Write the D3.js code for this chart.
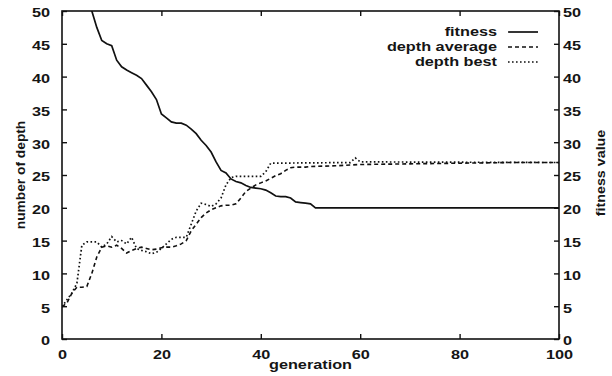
<!DOCTYPE html>
<html>
<head>
<meta charset="utf-8">
<script src="https://cdn.jsdelivr.net/npm/d3@7"></script>
<style>
  body { margin: 0; background: #fff; }
  svg text { font-family: "Liberation Sans", Arial, sans-serif; font-weight: bold; fill: #151515; }
</style>
</head>
<body>
<figure id="chart" style="margin:0"></figure>
<script>
// data
const fitnessGen = [5, 6, 7, 8, 9, 10, 11, 12, 13, 14, 15, 16, 17, 18, 19, 20, 21, 22, 23, 24, 25, 26, 27, 28, 29, 30, 31, 32, 33, 34, 35, 36, 37, 38, 39, 40, 41, 42, 43, 44, 45, 46, 47, 48, 49, 50, 51, 100];
const fitnessVal = [53, 50, 47.5, 45.5, 45, 44.7, 42.5, 41.5, 41, 40.6, 40.2, 39.7, 38.7, 37.7, 36.5, 34.3, 33.7, 33.1, 32.9, 32.9, 32.6, 32, 31.3, 30.3, 29.5, 28.5, 27, 25.7, 25.3, 24.4, 24, 23.8, 23.4, 23.1, 23, 22.9, 22.7, 22.3, 21.8, 21.7, 21.7, 21.5, 20.9, 20.8, 20.7, 20.6, 20, 20];

const avgGen = [0, 1, 2, 3, 4, 5, 6, 7, 8, 9, 10, 11, 12, 13, 14, 15, 16, 17, 18, 19, 20, 21, 22, 23, 24, 25, 26, 27, 28, 29, 30, 31, 32, 33, 34, 35, 36, 37, 38, 39, 40, 41, 42, 43, 44, 45, 46, 47, 48, 49, 50, 55, 60, 70, 80, 90, 100];
const avgVal = [4.9, 5.5, 7, 7.9, 7.9, 8, 10, 12.5, 14, 14.2, 14, 14.3, 13.8, 13.1, 13.5, 13.8, 14, 13.8, 13.6, 13.7, 13.9, 14, 14, 14.2, 14.5, 15, 16.5, 17.5, 18.5, 19.2, 19.7, 20, 20.3, 20.4, 20.4, 20.6, 21.5, 22.5, 23, 23.5, 23.8, 24.1, 24.5, 24.9, 25.2, 25.7, 26.1, 26.2, 26.2, 26.2, 26.3, 26.4, 26.6, 26.7, 26.8, 26.9, 26.9];

const bestGen = [0, 1, 2, 3, 4, 5, 6, 7, 8, 9, 10, 11, 12, 13, 14, 15, 16, 17, 18, 19, 20, 21, 22, 23, 24, 25, 26, 27, 28, 29, 30, 31, 32, 33, 34, 35, 40, 41, 42, 58, 59, 60, 100];
const bestVal = [4.9, 6, 7, 8.5, 14.3, 14.8, 14.8, 14.8, 14, 14.5, 15.6, 14.8, 15, 14.5, 15.5, 13.8, 13.5, 13.3, 13, 13.2, 13.8, 14.5, 15.2, 15.5, 15.5, 15.5, 17.5, 19.5, 20.7, 20.5, 20.2, 20.6, 21.5, 23.5, 24.6, 24.8, 24.8, 25.5, 26.8, 26.9, 27.6, 27, 26.9];

const xTicks = [0, 20, 40, 60, 80, 100];
const yTicks = [0, 5, 10, 15, 20, 25, 30, 35, 40, 45, 50];

const series = [
  { name: "fitness", gen: fitnessGen, val: fitnessVal, dash: null, w: 1.7 },
  { name: "depth average", gen: avgGen, val: avgVal, dash: "4,3", w: 1.6 },
  { name: "depth best", gen: bestGen, val: bestVal, dash: "1.6,2.4", w: 1.7 }
];

const W = 612, H = 376;
const margin = { top: 11, right: 53, bottom: 37, left: 62 };
const width = W - margin.left - margin.right;
const height = H - margin.top - margin.bottom;
const FONT = "13px";
const SX = 1.25; // the scanned lettering is wide

const svg = d3.select("figure#chart")
  .append("svg")
  .attr("width", W)
  .attr("height", H)
  .append("g")
  .attr("transform", "translate(" + margin.left + "," + margin.top + ")");

const x = d3.scaleLinear().domain([0, 100]).range([0, width]);
const y = d3.scaleLinear().domain([0, 50]).range([height, 0]);

svg.append("clipPath").attr("id", "clip")
  .append("rect").attr("width", width).attr("height", height);

// axes: ticks point inward, on all four sides
const styleAxis = g => {
  g.select(".domain").remove();
  g.selectAll(".tick line").attr("stroke", "#111").attr("stroke-width", 1.4);
  g.selectAll(".tick text").style("font-size", FONT);
};

svg.append("g")
  .attr("transform", "translate(0," + height + ")")
  .call(d3.axisBottom(x).tickValues(xTicks).tickSizeInner(-5).tickSizeOuter(0))
  .call(styleAxis)
  .selectAll(".tick text")
  .attr("y", 20).attr("dy", null)
  .attr("transform", "scale(" + SX + ",1)");

svg.append("g")
  .call(d3.axisTop(x).tickValues(xTicks).tickSizeInner(-5).tickSizeOuter(0).tickFormat(""))
  .call(styleAxis);

svg.append("g")
  .call(d3.axisLeft(y).tickValues(yTicks).tickSizeInner(-5).tickSizeOuter(0))
  .call(styleAxis)
  .selectAll(".tick text")
  .attr("x", -12 / SX).attr("dy", "0.45em")
  .attr("transform", "scale(" + SX + ",1)");

svg.append("g")
  .attr("transform", "translate(" + width + ",0)")
  .call(d3.axisRight(y).tickValues(yTicks).tickSizeInner(-5).tickSizeOuter(0))
  .call(styleAxis)
  .selectAll(".tick text")
  .attr("x", 4 / SX).attr("dy", "0.45em")
  .attr("transform", "scale(" + SX + ",1)");

// frame
svg.append("rect")
  .attr("width", width).attr("height", height)
  .attr("fill", "none").attr("stroke", "#111").attr("stroke-width", 1.6);

// lines
const line = d3.line().x(d => x(d[0])).y(d => y(d[1]));
series.forEach(s => {
  svg.append("path")
    .datum(s.gen.map((g, i) => [g, s.val[i]]))
    .attr("clip-path", "url(#clip)")
    .attr("fill", "none")
    .attr("stroke", "#111")
    .attr("stroke-width", s.w)
    .attr("stroke-dasharray", s.dash)
    .attr("d", line);
});

// legend
const legend = svg.append("g").attr("transform", "translate(" + (width - 62) + ",21)");
series.forEach((s, i) => {
  const row = legend.append("g").attr("transform", "translate(0," + (i * 15) + ")");
  row.append("text")
    .attr("transform", "scale(" + SX + ",1)")
    .attr("dy", "0.33em")
    .attr("text-anchor", "end")
    .style("font-size", FONT)
    .text(s.name);
  row.append("line")
    .attr("x1", 11).attr("x2", 41).attr("y1", 0).attr("y2", 0)
    .attr("stroke", "#111")
    .attr("stroke-width", s.w)
    .attr("stroke-dasharray", s.dash);
});

// axis titles
svg.append("text")
  .attr("transform", "translate(" + (width / 2) + "," + (height + 30) + ") scale(" + SX + ",1)")
  .attr("text-anchor", "middle")
  .style("font-size", FONT)
  .text("generation");

svg.append("text")
  .attr("transform", "translate(-42," + (height / 2) + ") rotate(-90) scale(1.06,1)")
  .attr("text-anchor", "middle")
  .attr("dy", "0.35em")
  .style("font-size", FONT)
  .text("number of depth");

svg.append("text")
  .attr("transform", "translate(" + (width + 41) + "," + (height / 2 - 2) + ") rotate(-90) scale(1.1,1)")
  .attr("text-anchor", "middle")
  .attr("dy", "0.35em")
  .style("font-size", FONT)
  .text("fitness value");
</script>
</body>
</html>
